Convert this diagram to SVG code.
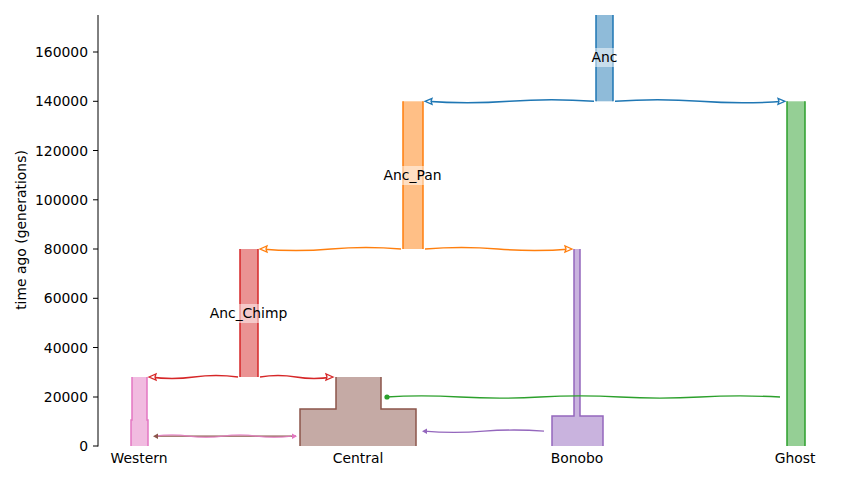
<svg xmlns="http://www.w3.org/2000/svg" width="853" height="480" viewBox="0 0 853 480">
<style>
text{font-family:"DejaVu Sans","Liberation Sans",sans-serif;font-size:13.9px;fill:#000}
.tick{text-anchor:end}
.lab{text-anchor:middle}
.side{fill:none;stroke-width:1.5;stroke-linejoin:miter}
.anc{fill:none;stroke-width:1.5}
.mig{fill:none;stroke-width:1.3}
.lbg{fill:#fff;opacity:0.5}
</style>
<rect width="853" height="480" fill="#fff"/>
<g id="axes" stroke="#000" stroke-width="1">
<line x1="98" y1="15" x2="98" y2="446.5"/>
<line x1="93" y1="446" x2="98" y2="446"/>
<line x1="93" y1="397" x2="98" y2="397"/>
<line x1="93" y1="347.5" x2="98" y2="347.5"/>
<line x1="93" y1="298.3" x2="98" y2="298.3"/>
<line x1="93" y1="249" x2="98" y2="249"/>
<line x1="93" y1="199.8" x2="98" y2="199.8"/>
<line x1="93" y1="150.5" x2="98" y2="150.5"/>
<line x1="93" y1="101.3" x2="98" y2="101.3"/>
<line x1="93" y1="52" x2="98" y2="52"/>
</g>
<g id="ticklabels">
<text class="tick" x="88" y="451">0</text>
<text class="tick" x="88" y="402">20000</text>
<text class="tick" x="88" y="352.5">40000</text>
<text class="tick" x="88" y="303.3">60000</text>
<text class="tick" x="88" y="254">80000</text>
<text class="tick" x="88" y="204.8">100000</text>
<text class="tick" x="88" y="155.5">120000</text>
<text class="tick" x="88" y="106.3">140000</text>
<text class="tick" x="88" y="57">160000</text>
<text class="lab" transform="translate(26,230) rotate(-90)">time ago (generations)</text>
</g>
<g id="Anc">
<rect x="596" y="15" width="17" height="86.3" fill="#1f77b4" opacity="0.5"/>
<path class="side" stroke="#1f77b4" d="M596,15V101.3M613,15V101.3"/>
</g>
<g id="Anc_Pan">
<rect x="403" y="101.3" width="20" height="147.7" fill="#ff7f0e" opacity="0.5"/>
<path class="side" stroke="#ff7f0e" d="M403,101.3V249M423,101.3V249"/>
</g>
<g id="Anc_Chimp">
<rect x="240" y="249" width="18" height="128" fill="#d62728" opacity="0.5"/>
<path class="side" stroke="#d62728" d="M240,249V377M258,249V377"/>
</g>
<g id="Ghost">
<rect x="787" y="101.3" width="18" height="344.7" fill="#2ca02c" opacity="0.5"/>
<path class="side" stroke="#2ca02c" d="M787,101.3V446M805,101.3V446"/>
</g>
<g id="Western">
<path d="M132,377H147V420H148V446H131V420H132Z" fill="#e377c2" opacity="0.5"/>
<path class="side" stroke="#e377c2" d="M132,377V420H131V446M147,377V420H148V446"/>
</g>
<g id="Central">
<path d="M336,377H381V409H416V446H300V409H336Z" fill="#8c564b" opacity="0.5"/>
<path class="side" stroke="#8c564b" d="M336,377V409H300V446M381,377V409H416V446"/>
</g>
<g id="Bonobo">
<path d="M574,249H580V416H603V446H552V416H574Z" fill="#9467bd" opacity="0.5"/>
<path class="side" stroke="#9467bd" d="M574,249V416H552V446M580,249V416H603V446"/>
</g>
<g id="connectors">
<path class="anc" stroke="#1f77b4" d="M594,101.3Q551.5,98.3 509.5,101.3Q467,104.3 426,101.3M615,101.3Q657.5,98.3 700,101.3Q742.5,104.3 784,101.3"/>
<path d="M425,101.3L432,98.3L431,101.3L432,104.3Z" fill="#fff" stroke="#1f77b4" stroke-width="1.3"/>
<path d="M785,101.3L778,98.3L779,101.3L778,104.3Z" fill="#fff" stroke="#1f77b4" stroke-width="1.3"/>
<path class="anc" stroke="#ff7f0e" d="M401,249Q366,246 331,249Q296,252 261,249M425,249Q461.5,246 498,249Q534.5,252 571,249"/>
<path d="M260,249L267,246L266,249L267,252Z" fill="#fff" stroke="#ff7f0e" stroke-width="1.3"/>
<path d="M572,249L565,246L566,249L565,252Z" fill="#fff" stroke="#ff7f0e" stroke-width="1.3"/>
<path class="anc" stroke="#d62728" d="M238,377Q216,374 194,377Q172,380 150,377M260,377Q278,374 296,377Q314,380 332,377"/>
<path d="M149,377L156,374L155,377L156,380Z" fill="#fff" stroke="#d62728" stroke-width="1.3"/>
<path d="M333,377L326,374L327,377L326,380Z" fill="#fff" stroke="#d62728" stroke-width="1.3"/>
<path class="mig" stroke="#8c564b" d="M155,436.2H296"/>
<path class="mig" stroke="#e377c2" opacity="0.8" d="M155,436.2Q172,433.7 189,436.2T223,436.2T257,436.2T291,436.2"/>
<path d="M153,436.2L158,433.5V439Z" fill="#8c564b"/>
<path d="M297,436.2L292,433.5V439Z" fill="#e377c2"/>
<path class="mig" stroke="#2ca02c" d="M780,397Q740,394.8 700,397T620,397T540,397T460,397T386,397"/>
<circle cx="387" cy="397" r="2.6" fill="#2ca02c"/>
<path class="mig" stroke="#9467bd" d="M544,431.2Q514,428.8 484,431.2T424,431.2"/>
<path d="M422,431.2L427,428.5V434Z" fill="#9467bd"/>
</g>
<g id="labels">
<rect class="lbg" x="590" y="48" width="29" height="19"/>
<text class="lab" x="604.5" y="62">Anc</text>
<rect class="lbg" x="384" y="166" width="57" height="19"/>
<text class="lab" x="412.5" y="180">Anc_Pan</text>
<rect class="lbg" x="210" y="304" width="77" height="19"/>
<text class="lab" x="248.5" y="318">Anc_Chimp</text>
<text class="lab" x="139" y="463">Western</text>
<text class="lab" x="358" y="463">Central</text>
<text class="lab" x="577" y="463">Bonobo</text>
<text class="lab" x="795" y="463">Ghost</text>
</g>
</svg>
